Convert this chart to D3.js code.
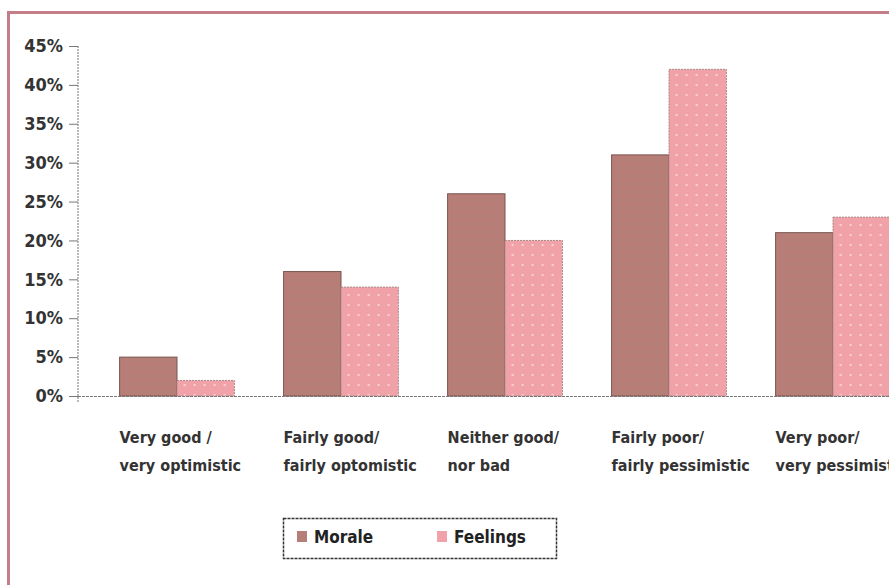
<!DOCTYPE html>
<html>
<head>
<meta charset="utf-8">
<script src="https://cdn.jsdelivr.net/npm/d3@7"></script>
<style>
  body { margin: 0; background: #fff; }
  svg { display: block; }
</style>
</head>
<body>
<div id="chart"></div>
<script>
// Survey answers, two series
const categories = [
  ['Very good /', 'very optimistic'],
  ['Fairly good/', 'fairly optomistic'],
  ['Neither good/', 'nor bad'],
  ['Fairly poor/', 'fairly pessimistic'],
  ['Very poor/', 'very pessimistic']
];
const moraleValues = [5, 16, 26, 31, 21];
const feelingsValues = [2, 14, 20, 42, 23];
const yTicks = [0, 5, 10, 15, 20, 25, 30, 35, 40, 45];
const seriesNames = ['Morale', 'Feelings'];

const width = 889, height = 585;
const colors = { Morale: '#b57f78', Feelings: '#f0a2a8' };

const svg = d3.select('#chart').append('svg')
  .attr('width', width)
  .attr('height', height);

// dotted fills
const defs = svg.append('defs');
const pm = defs.append('pattern').attr('id', 'pat-morale')
  .attr('patternUnits', 'userSpaceOnUse').attr('width', 8).attr('height', 8);
pm.append('rect').attr('width', 8).attr('height', 8).attr('fill', colors.Morale);
pm.append('rect').attr('x', 3).attr('y', 3).attr('width', 2).attr('height', 2).attr('fill', '#c8727a');
const pf = defs.append('pattern').attr('id', 'pat-feelings')
  .attr('patternUnits', 'userSpaceOnUse').attr('width', 10).attr('height', 10);
pf.append('rect').attr('width', 10).attr('height', 10).attr('fill', colors.Feelings);
pf.append('rect').attr('x', 4).attr('y', 4).attr('width', 2).attr('height', 2).attr('fill', '#fbd0d3');

// outer frame (top + left only visible)
svg.append('path')
  .attr('d', `M8.5,${height} L8.5,12.5 L${width},12.5`)
  .attr('fill', 'none')
  .attr('stroke', '#c47e88')
  .attr('stroke-width', 3);

const y = d3.scaleLinear().domain([0, 45]).range([396, 46]);
const x = d3.scaleBand().domain(d3.range(categories.length))
  .range([95, 915]).paddingInner(0.3).paddingOuter(0.15);
const xs = d3.scaleBand().domain(seriesNames).range([0, x.bandwidth()]);

const font = '"DejaVu Sans Condensed", "DejaVu Sans", sans-serif';

// y axis
const yAxis = svg.append('g')
  .attr('transform', 'translate(78,0)')
  .call(d3.axisLeft(y).tickValues(yTicks).tickSize(9).tickFormat(d => d + '%'));
yAxis.select('.domain')
  .attr('d', `M0,${y(45)}V${y(0) + 6}`)
  .attr('stroke', '#777').attr('stroke-dasharray', '2,1');
yAxis.selectAll('.tick line').attr('stroke', '#777');
yAxis.selectAll('.tick text')
  .attr('x', -15)
  .style('font-family', font)
  .style('font-stretch', 'condensed')
  .style('font-size', '18px')
  .style('font-weight', 'bold')
  .attr('fill', '#333');

// bars
const groups = svg.append('g').selectAll('g')
  .data(categories.map((c, i) => ({ i, vals: [moraleValues[i], feelingsValues[i]] })))
  .join('g')
  .attr('transform', d => `translate(${x(d.i)},0)`);

groups.selectAll('rect')
  .data(d => d.vals.map((v, k) => ({ name: seriesNames[k], v })))
  .join('rect')
  .attr('x', d => xs(d.name))
  .attr('y', d => y(d.v))
  .attr('width', xs.bandwidth())
  .attr('height', d => y(0) - y(d.v))
  .attr('fill', d => d.name === 'Morale' ? 'url(#pat-morale)' : 'url(#pat-feelings)')
  .attr('stroke', d => d.name === 'Morale' ? '#7a5550' : '#a88888')
  .attr('stroke-width', 1)
  .attr('stroke-dasharray', d => d.name === 'Morale' ? null : '2,1');

// baseline
svg.append('line')
  .attr('x1', 78).attr('x2', width)
  .attr('y1', y(0) + 0.5).attr('y2', y(0) + 0.5)
  .attr('stroke', '#777').attr('stroke-dasharray', '3,1');

// category labels
const labels = svg.append('g').selectAll('text')
  .data(categories)
  .join('text')
  .attr('x', (d, i) => x(i))
  .attr('y', 443)
  .style('font-family', font)
  .style('font-stretch', 'condensed')
  .style('font-size', '16px')
  .style('font-weight', 'bold')
  .attr('fill', '#333');
labels.selectAll('tspan')
  .data(d => d)
  .join('tspan')
  .attr('x', function () { return d3.select(this.parentNode).attr('x'); })
  .attr('dy', (d, j) => j === 0 ? 0 : 28)
  .text(d => d);

// legend
const legend = svg.append('g');
legend.append('rect')
  .attr('x', 283.5).attr('y', 518.5).attr('width', 273).attr('height', 40)
  .attr('fill', 'none').attr('stroke', '#333').attr('stroke-width', 1.5)
  .attr('stroke-dasharray', '3,1');
const legendX = [297, 437];
seriesNames.forEach((name, k) => {
  legend.append('rect')
    .attr('x', legendX[k]).attr('y', 531).attr('width', 10).attr('height', 11)
    .attr('fill', colors[name]);
  legend.append('text')
    .attr('x', legendX[k] + 17).attr('y', 543)
    .style('font-family', font)
    .style('font-stretch', 'condensed')
    .style('font-size', '17px')
    .style('font-weight', 'bold')
    .attr('fill', '#222')
    .text(name);
});
</script>
</body>
</html>
